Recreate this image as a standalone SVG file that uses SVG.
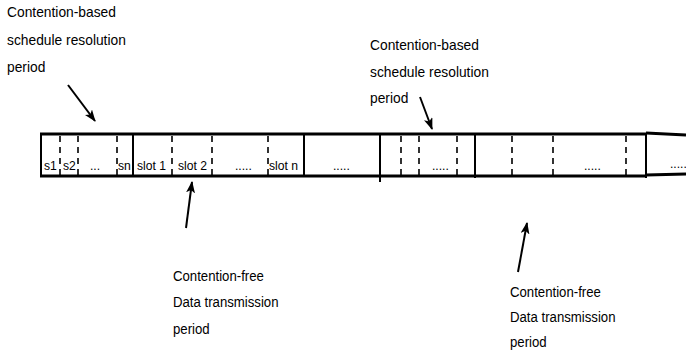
<svg xmlns="http://www.w3.org/2000/svg" width="686" height="352" viewBox="0 0 686 352">
<style>
.lbl{font-family:"Liberation Sans",Arial,sans-serif;font-size:15px;fill:#000}
.in{font-family:"Liberation Sans",Arial,sans-serif;font-size:13.5px;fill:#000}
.edge{stroke:#000;stroke-width:3;fill:none}
.sol{stroke:#000;stroke-width:2;fill:none}
.dash{stroke:#000;stroke-width:1.6;stroke-dasharray:6,5;fill:none}
.arr{stroke:#000;stroke-width:2;fill:none;marker-end:url(#ah)}
</style>
<defs>
<marker id="ah" viewBox="0 0 12 9" refX="11" refY="4.5" markerWidth="6" markerHeight="4.5" orient="auto" markerUnits="strokeWidth">
<path d="M0,0 L12,4.5 L0,9 L3,4.5 z" fill="#000"/>
</marker>
</defs>
<g id="frame">
<line class="edge" x1="40" y1="134" x2="646" y2="134"/>
<line class="edge" x1="40" y1="176" x2="646" y2="176"/>
<line class="edge" x1="646" y1="133" x2="686" y2="135"/>
<line class="edge" x1="646" y1="175" x2="686" y2="174"/>
<line class="sol" x1="41" y1="133" x2="41" y2="177"/>
<line class="sol" x1="133" y1="134" x2="133" y2="176"/>
<line class="sol" x1="304" y1="134" x2="304" y2="176"/>
<line class="sol" x1="380" y1="134" x2="380" y2="182"/>
<line class="sol" x1="475" y1="134" x2="475" y2="178"/>
<line class="sol" x1="646" y1="134" x2="646" y2="178"/>
<line class="dash" x1="60" y1="136" x2="60" y2="176"/>
<line class="dash" x1="78" y1="136" x2="78" y2="176"/>
<line class="dash" x1="117" y1="136" x2="117" y2="176"/>
<line class="dash" x1="172" y1="136" x2="172" y2="176"/>
<line class="dash" x1="212" y1="136" x2="212" y2="176"/>
<line class="dash" x1="268" y1="136" x2="268" y2="176"/>
<line class="dash" x1="401" y1="136" x2="401" y2="176"/>
<line class="dash" x1="419" y1="136" x2="419" y2="176"/>
<line class="dash" x1="457" y1="136" x2="457" y2="176"/>
<line class="dash" x1="512" y1="136" x2="512" y2="176"/>
<line class="dash" x1="553" y1="136" x2="553" y2="176"/>
<line class="dash" x1="626" y1="136" x2="626" y2="176"/>
</g>
<g id="cells">
<text class="in" transform="translate(44,170) scale(0.9,1)">s1</text>
<text class="in" transform="translate(63,170) scale(0.9,1)">s2</text>
<text class="in" transform="translate(90,170) scale(0.9,1)">...</text>
<text class="in" transform="translate(118,170) scale(0.9,1)">sn</text>
<text class="in" transform="translate(137,170) scale(0.9,1)">slot 1</text>
<text class="in" transform="translate(178,170) scale(0.9,1)">slot 2</text>
<text class="in" transform="translate(235,170) scale(0.9,1)">.....</text>
<text class="in" transform="translate(269,170) scale(0.9,1)">slot n</text>
<text class="in" transform="translate(333,170) scale(0.9,1)">.....</text>
<text class="in" transform="translate(432,170) scale(0.9,1)">.....</text>
<text class="in" transform="translate(584,170) scale(0.9,1)">.....</text>
<text class="in" transform="translate(670,168) scale(0.9,1)">.....</text>
</g>
<g id="label-cb-left">
<text class="lbl" transform="translate(7,17) scale(0.92,1)">Contention-based</text>
<text class="lbl" transform="translate(7,45) scale(0.92,1)">schedule resolution</text>
<text class="lbl" transform="translate(7,72) scale(0.92,1)">period</text>
</g>
<g id="label-cb-right">
<text class="lbl" transform="translate(370,50) scale(0.92,1)">Contention-based</text>
<text class="lbl" transform="translate(370,77) scale(0.92,1)">schedule resolution</text>
<text class="lbl" transform="translate(370,103) scale(0.92,1)">period</text>
</g>
<g id="label-cf-left">
<text class="lbl" transform="translate(173,281) scale(0.88,1)">Contention-free</text>
<text class="lbl" transform="translate(173,307) scale(0.88,1)">Data transmission</text>
<text class="lbl" transform="translate(173,334) scale(0.88,1)">period</text>
</g>
<g id="label-cf-right">
<text class="lbl" transform="translate(510,297) scale(0.88,1)">Contention-free</text>
<text class="lbl" transform="translate(510,322) scale(0.88,1)">Data transmission</text>
<text class="lbl" transform="translate(510,347) scale(0.88,1)">period</text>
</g>
<g id="connectors">
<line class="arr" x1="68" y1="85" x2="95" y2="121"/>
<line class="arr" x1="420" y1="97" x2="432" y2="129"/>
<line class="arr" x1="186" y1="228" x2="192" y2="182"/>
<line class="arr" x1="518" y1="272" x2="527" y2="223"/>
</g>
</svg>
